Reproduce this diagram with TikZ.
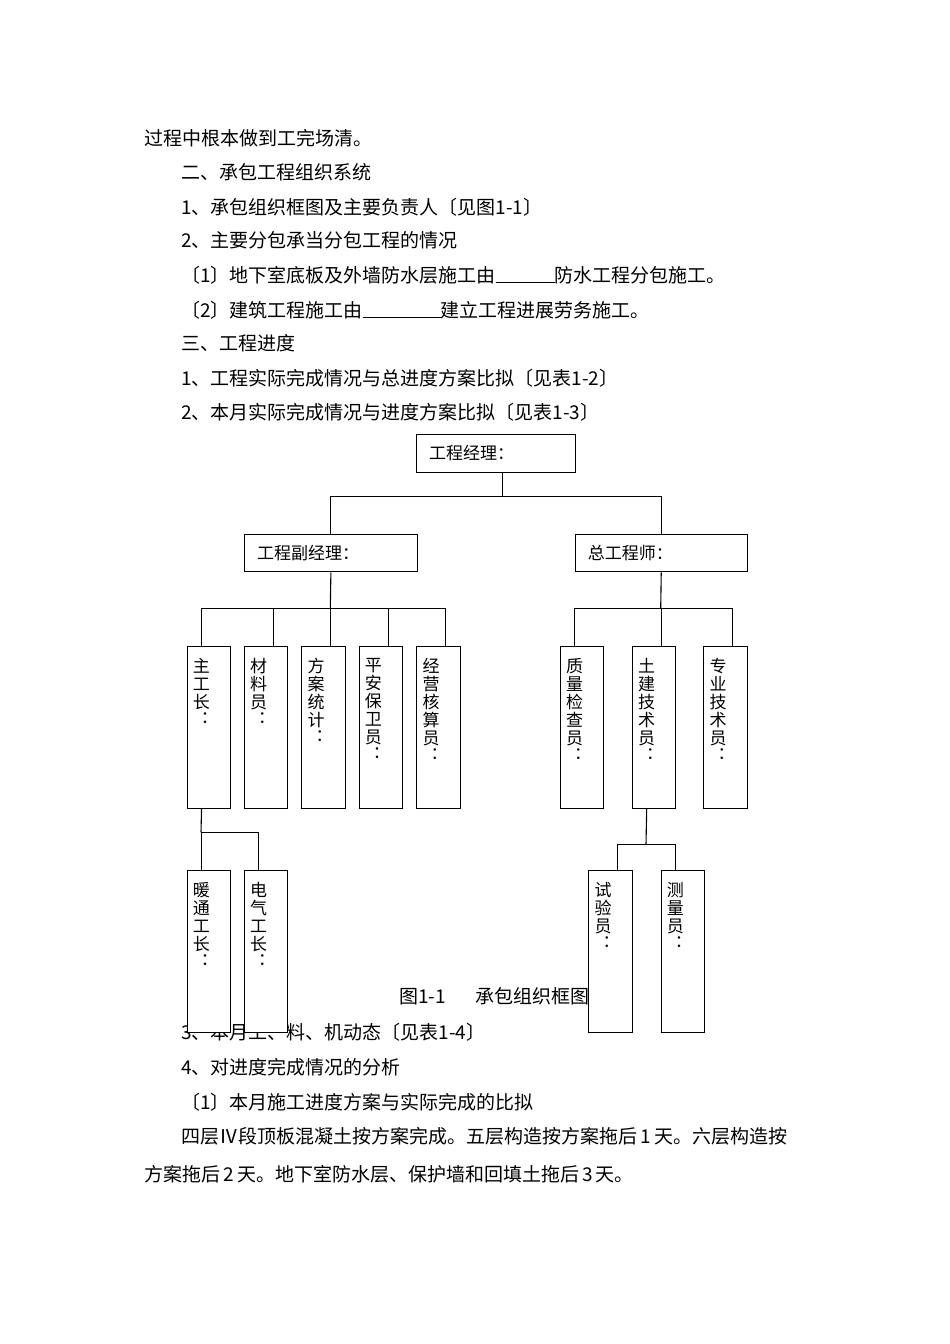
\documentclass[tikz,border=0pt]{standalone}
\usepackage{fontspec}
\setmainfont{Noto Sans CJK SC}
\begin{document}
\begin{tikzpicture}[x=1pt,y=-1pt,
  body/.style={anchor=base west,inner sep=0pt,font=\fontsize{19}{19}\selectfont},
  hbox/.style={draw,fill=white,line width=1.1pt,anchor=north west,inner xsep=12.5pt,inner ysep=0pt,align=left,minimum height=37.5pt,font=\fontsize{17}{17}\selectfont},
  vbox/.style={draw,fill=white,line width=1.1pt,anchor=north west,inner sep=0pt,minimum width=43.3pt},
  vlab/.style={anchor=north west,inner sep=0pt,align=left,font=\fontsize{17}{18}\selectfont},
  conn/.style={line width=1.1pt}]
\newcommand{\vcolon}{\\[-3pt]\hspace*{8pt}：}
\useasboundingbox (0,0) rectangle (950,1344);
\fill[white] (0,0) rectangle (950,1344);
% body text
\node[body] (l1) at (144,145) {过程中根本做到工完场清。};
\node[body] (l2) at (181,179) {二、承包工程组织系统};
\node[body] (l3) at (181,214) {1、承包组织框图及主要负责人〔见图1-1〕};
\node[body] (l4) at (181,247) {2、主要分包承当分包工程的情况};
\node[body] (l5) at (181,282) {〔1〕地下室底板及外墙防水层施工由\rule[-0.5pt]{59pt}{0.8pt}防水工程分包施工。};
\node[body] (l6) at (181,317) {〔2〕建筑工程施工由\rule[-0.5pt]{78pt}{0.8pt}建立工程进展劳务施工。};
\node[body] (l7) at (181,350) {三、工程进度};
\node[body] (l8) at (181,385) {1、工程实际完成情况与总进度方案比拟〔见表1-2〕};
\node[body] (l9) at (181,419) {2、本月实际完成情况与进度方案比拟〔见表1-3〕};
\node[body] (cap) at (399,1003) {图1-1\hspace{30pt}承包组织框图};
\node[body] (l10) at (181,1039) {3、本月工、料、机动态〔见表1-4〕};
\node[body] (l11) at (181,1074) {4、对进度完成情况的分析};
\node[body] (l12) at (181,1109) {〔1〕本月施工进度方案与实际完成的比拟};
\node[body] (l13) at (181,1143) {四层Ⅳ段顶板混凝土按方案完成。五层构造按方案拖后\,1\,天。六层构造按};
\node[body] (l14) at (144,1181) {方案拖后\,2\,天。地下室防水层、保护墙和回填土拖后\,3\,天。};
% boxes
\node[hbox,text width=134pt] (pm) at (416,434) {工程经理：};
\node[hbox,text width=147.7pt] (dpm) at (244,533.7) {工程副经理：};
\node[hbox,text width=147pt] (ce) at (574.7,533.7) {总工程师：};
\foreach \n/\x in {b1/186.7,b2/244,b3/301.3,b4/358.7,b5/416.3,c1/560,c2/632,c3/703.3}
  \node[vbox,minimum height=162pt] (\n) at (\x,645.7) {};
\foreach \n/\x in {d1/186.7,d2/244,e1/588.3,e2/660.7}
  \node[vbox,minimum height=161.7pt] (\n) at (\x,870) {};
% labels in vertical boxes
\node[vlab] (tb1) at ([xshift=6pt,yshift=-12pt]b1.north west) {主\\工\\长\vcolon};
\node[vlab] (tb2) at ([xshift=6pt,yshift=-12pt]b2.north west) {材\\料\\员\vcolon};
\node[vlab] (tb3) at ([xshift=6pt,yshift=-12pt]b3.north west) {方\\案\\统\\计\vcolon};
\node[vlab] (tb4) at ([xshift=6pt,yshift=-12pt]b4.north west) {平\\安\\保\\卫\\员\vcolon};
\node[vlab] (tb5) at ([xshift=6pt,yshift=-12pt]b5.north west) {经\\营\\核\\算\\员\vcolon};
\node[vlab] (tc1) at ([xshift=6pt,yshift=-12pt]c1.north west) {质\\量\\检\\查\\员\vcolon};
\node[vlab] (tc2) at ([xshift=6pt,yshift=-12pt]c2.north west) {土\\建\\技\\术\\员\vcolon};
\node[vlab] (tc3) at ([xshift=6pt,yshift=-12pt]c3.north west) {专\\业\\技\\术\\员\vcolon};
\node[vlab] (td1) at ([xshift=6pt,yshift=-12pt]d1.north west) {暖\\通\\工\\长\vcolon};
\node[vlab] (td2) at ([xshift=6pt,yshift=-12pt]d2.north west) {电\\气\\工\\长\vcolon};
\node[vlab] (te1) at ([xshift=6pt,yshift=-12pt]e1.north west) {试\\验\\员\vcolon};
\node[vlab] (te2) at ([xshift=6pt,yshift=-12pt]e2.north west) {测\\量\\员\vcolon};
% connectors
\coordinate (j0) at (502.7,496.3);
\coordinate (j1) at (330.3,608.5);
\coordinate (j2) at (660.7,608.5);
\coordinate (j3) at (201,832.3);
\coordinate (j4) at (646,844.3);
\draw[conn] (pm.south -| j0) -- (j0);
\draw[conn] (dpm.north) |- (j0) -| (ce.north);
\draw[conn] (dpm.south) -- (j1);
\draw[conn] ([xshift=-7.3pt]b1.north) |- (j1);
\draw[conn] ([xshift=7pt]b2.north) |- (j1);
\draw[conn] ([xshift=7.3pt]b3.north) |- (j1);
\draw[conn] ([xshift=7.3pt]b4.north) |- (j1);
\draw[conn] ([xshift=7pt]b5.north) |- (j1);
\draw[conn] (ce.south) -- (j2);
\draw[conn] ([xshift=-7.35pt]c1.north) |- (j2);
\draw[conn] ([xshift=7.2pt]c2.north) |- (j2);
\draw[conn] ([xshift=7.3pt]c3.north) |- (j2);
\draw[conn] ([xshift=-7.35pt]b1.south) -- (j3);
\draw[conn] ([xshift=-7.35pt]d1.north) |- (j3);
\draw[conn] ([xshift=-7.35pt]d2.north) |- (j3);
\draw[conn] ([xshift=-7.5pt]c2.south) -- (j4);
\draw[conn] ([xshift=7.3pt]e1.north) |- (j4);
\draw[conn] ([xshift=-7.35pt]e2.north) |- (j4);
\end{tikzpicture}
\end{document}
